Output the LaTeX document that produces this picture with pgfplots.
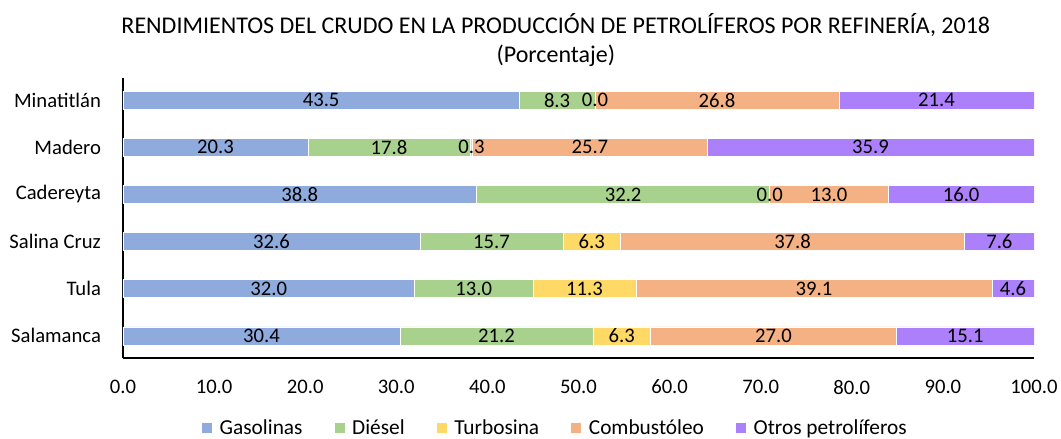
\documentclass[border=0pt]{standalone}
\usepackage{pgfplots}
\usepackage{pgfplotstable}
\pgfplotsset{compat=1.18}
\usepackage{fontspec}
\setmainfont{Carlito}

\definecolor{gas}{RGB}{143,170,220}
\definecolor{die}{RGB}{169,209,142}
\definecolor{tur}{RGB}{255,217,102}
\definecolor{com}{RGB}{244,177,131}
\definecolor{otr}{RGB}{172,128,250}

% y: 0 = Salamanca ... 5 = Minatitlan
\pgfplotstableread{
y gas die tur com otr
0 30.4 21.2 6.3 27.0 15.1
1 32.0 13.0 11.3 39.1 4.6
2 32.6 15.7 6.3 37.8 7.6
3 38.8 32.2 0.0 13.0 16.0
4 20.3 17.8 0.3 25.7 35.9
5 43.5 8.3 0.0 26.8 21.4
}\datos

\pgfplotsset{
    marco/.style={
        scale only axis,
        width=683.25pt, height=210pt,
        xmin=0, xmax=100,
        ymin=-0.47, ymax=5.47,
        font=\fontsize{15.5}{18}\selectfont,
        /pgf/number format/assume math mode=true,
    },
    etiqueta/.style={
        draw=none, mark=none, forget plot,
        point meta=\thisrow{#1},
        nodes near coords={\pgfmathprintnumber[fixed,fixed zerofill,precision=1]{\pgfplotspointmeta}},
        every node near coord/.append style={anchor=center, inner sep=0pt, text=black,
            font=\fontsize{15.5}{18}\selectfont},
    },
}

\begin{document}
\begin{tikzpicture}
\begin{axis}[
    marco,
    xbar stacked,
    bar width=13.5pt,
    ytick={0,...,5},
    yticklabels={Salamanca,Tula,Salina Cruz,Cadereyta,Madero,Minatitlán},
    xtick={0,10,...,100},
    xticklabel={\pgfmathprintnumber[fixed,fixed zerofill,precision=1]{\tick}},
    xticklabel style={yshift=-13pt},
    yticklabel style={xshift=-13pt},
    tick style={draw=none},
    axis x line*=bottom,
    axis y line*=left,
    axis line style={-, black, line width=0.8pt},
    title={RENDIMIENTOS DEL CRUDO EN LA PRODUCCIÓN DE PETROLÍFEROS POR REFINERÍA, 2018\\(Porcentaje)},
    title style={align=center, font=\fontsize{18}{22.25}\selectfont, xshift=-17pt, yshift=-1.25pt},
    legend style={at={(0.475,-0.251)}, anchor=center, draw=none,
        font=\fontsize{16}{18}\selectfont,
        /tikz/every even column/.append style={column sep=22pt}},
    legend columns=5,
    legend image code/.code={\draw[#1, draw=none] (0pt,-3.75pt) rectangle (7.5pt,3.75pt);
        \path (7.5pt,0pt) -- (11pt,0pt);},
    every axis plot/.append style={draw=white, line width=0.5pt},
]
\addplot[fill=gas] table[x=gas, y=y] {\datos};
\addplot[fill=die] table[x=die, y=y] {\datos};
\addplot[fill=tur] table[x=tur, y=y] {\datos};
\addplot[fill=com] table[x=com, y=y] {\datos};
\addplot[fill=otr] table[x=otr, y=y] {\datos};
\legend{Gasolinas, Diésel, Turbosina, Combustóleo, Otros petrolíferos}
\coordinate (sw) at (rel axis cs:0,0);
\coordinate (ne) at (rel axis cs:1,1);
\end{axis}
% etiquetas de datos, centradas en cada segmento
\begin{axis}[marco, hide axis]
\addplot[etiqueta=gas] table[x expr=\thisrow{gas}/2, y=y] {\datos};
\addplot[etiqueta=die] table[x expr=\thisrow{gas}+\thisrow{die}/2, y=y] {\datos};
\addplot[etiqueta=tur] table[x expr=\thisrow{gas}+\thisrow{die}+\thisrow{tur}/2, y=y] {\datos};
\addplot[etiqueta=com] table[x expr=\thisrow{gas}+\thisrow{die}+\thisrow{tur}+\thisrow{com}/2, y=y] {\datos};
\addplot[etiqueta=otr] table[x expr=100-\thisrow{otr}/2, y=y] {\datos};
\end{axis}
\pgfresetboundingbox
\path ([shift={(-92.25pt,-60.75pt)}]sw) rectangle ([shift={(20.25pt,58.5pt)}]ne);
\end{tikzpicture}
\end{document}
